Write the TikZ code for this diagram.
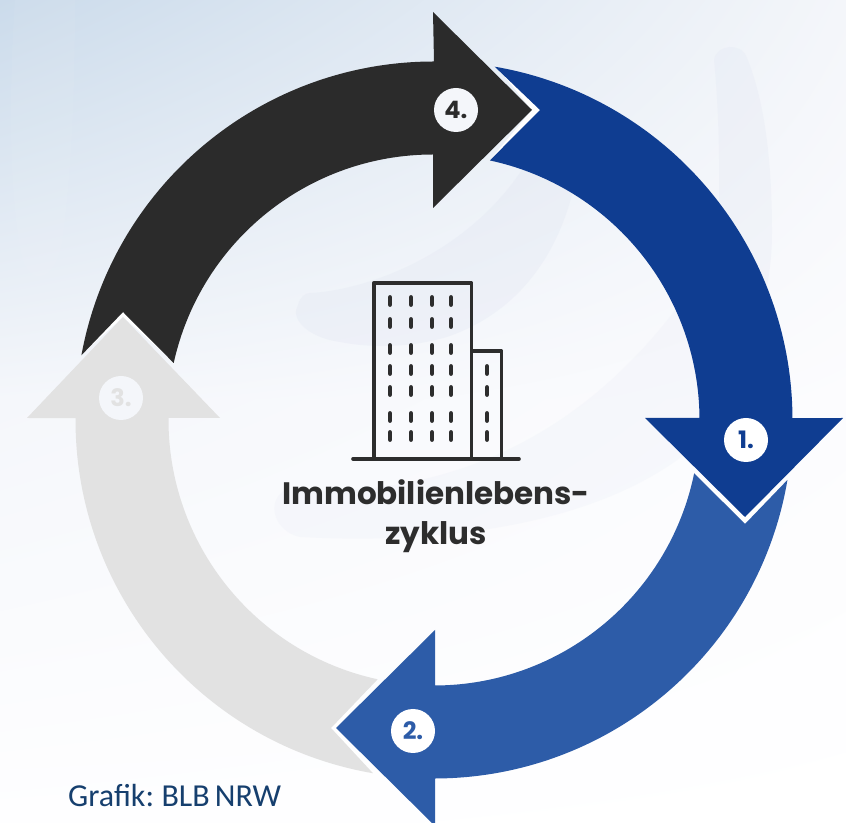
\documentclass[tikz,border=0pt]{standalone}
\usepackage{fontspec}
\newfontfamily\titlefont{Poppins}
\newfontfamily\creditfont[WordSpace=0.7]{Carlito}
\usetikzlibrary{calc,shadings}
\definecolor{blueone}{HTML}{0F3D91}
\definecolor{bluetwo}{HTML}{2D5CA8}
\definecolor{blackarrow}{HTML}{2B2B2B}
\definecolor{greyarrow}{HTML}{E2E2E2}
\definecolor{inkdark}{HTML}{2D2D2D}
\definecolor{creditblue}{HTML}{163F6E}
\definecolor{bgUL}{HTML}{CBDBEB}
\definecolor{bgUR}{HTML}{F4F6FA}
\definecolor{bgML}{HTML}{F5F7FB}
\definecolor{bgMR}{HTML}{FCFCFE}
\definecolor{bgLL}{HTML}{FEFEFF}
\definecolor{blade}{HTML}{DDE2F0}
\tikzset{
  x=1pt,y=1pt,
  gap/.style={fill=white},
  badge/.style={circle,minimum size=44pt,inner sep=0pt,font=\titlefont\bfseries\fontsize{24}{24}\selectfont},
  house/.style={draw=inkdark,line width=3.6pt,line join=round},
  pane/.style={draw=inkdark,line width=4.6pt,line cap=round},
  title/.style={font=\titlefont\bfseries\fontsize{31}{31}\selectfont,text=inkdark,anchor=base}
}
\begin{document}
\begin{tikzpicture}
\path[use as bounding box] (0,0) rectangle (846,822);
\clip (0,0) rectangle (846,822);
\shade[upper left=bgUL,upper right=bgUR,lower left=bgML,lower right=bgMR] (0,422) rectangle (846,822);
\shade[upper left=bgML,upper right=bgMR,lower left=bgLL,lower right=white] (0,0) rectangle (846,422.5);
% faint swooshes of the background
\fill[white,opacity=.05] (15,822) .. controls (8,720) and (10,620) .. (22,565) .. controls (30,535) and (55,540) .. (62,580) .. controls (72,650) and (75,740) .. (75,822) -- cycle;
\fill[blade,opacity=.22] (714,762) .. controls (716,778) and (742,780) .. (747,764) .. controls (765,720) and (772,660) .. (772,590) .. controls (772,540) and (760,500) .. (745,470) -- (718,520) .. controls (720,640) and (720,700) .. (714,762) -- cycle;
\fill[blade,opacity=.25] (310,529) .. controls (370,532) and (470,570) .. (525,657) -- (575,640) .. controls (560,570) and (520,510) .. (447,485) .. controls (410,474) and (370,474) .. (340,480) .. controls (305,485) and (290,505) .. (298,517) .. controls (300,525) and (305,529) .. (310,529) -- cycle;
\fill[blade,opacity=.14] (285,332) .. controls (400,325) and (570,350) .. (700,547) -- (760,520) -- (735,420) .. controls (660,310) and (480,275) .. (300,285) .. controls (275,290) and (265,320) .. (285,332) -- cycle;
% gaps between the arrows
\fill[gap] (495,757) -- (540,712) -- (490,662) -- (532,712) -- cycle;
\fill[gap] (788,342) -- (745,298) -- (693,349) -- (745,305) -- cycle;
\fill[gap] (378,144) -- (331,94) -- (373,49) -- (336,94) -- cycle;
\fill[gap] (81,467) -- (123,510) -- (175,459) -- (123,505) -- cycle;
% arrow 1
\fill[blueone] (434,402) ++(80.25:358.5) arc[start angle=80.25,end angle=.3,radius=358.5pt]
  -- (843,404) -- (745,305) -- (645,404) -- (699.5,404)
  arc[start angle=.43,end angle=77.85,radius=265.5pt] -- (540,712) -- cycle;
% arrow 2
\fill[bluetwo] (434,402) ++(-9.62:358.5) arc[start angle=-9.62,end angle=-89.8,radius=358.5pt]
  -- (435,-4) -- (336,94) -- (435,192) -- (435,136.5)
  arc[start angle=-89.8,end angle=-11.56,radius=265.5pt] -- (745,298) -- cycle;
% arrow 3
\fill[greyarrow] (434,402) ++(260.2:358.5) arc[start angle=260.2,end angle=179.7,radius=358.5pt]
  -- (27,404) -- (123,505) -- (220,404) -- (168.5,404)
  arc[start angle=179.6,end angle=257.75,radius=265.5pt] -- (331,94) -- cycle;
% arrow 4
\fill[blackarrow] (434,402) ++(169.6:358.5) arc[start angle=169.6,end angle=90,radius=358.5pt]
  -- (433,810) -- (532,712) -- (433,614) -- (433,667.5)
  arc[start angle=90,end angle=167.6,radius=265.5pt] -- (123,510) -- cycle;
% badges
\node[badge,fill=white,text=blueone] (b1) at (746,382) {1.};
\node[badge,fill=white,text=bluetwo] (b2) at (413,91) {2.};
\node[badge,fill=bgUR,text=greyarrow] (b3) at (121,424) {3.};
\node[badge,fill=bgUR,text=blackarrow] (b4) at (456,712) {4.};
% building
\draw[house] (373.7,363) -- (373.7,539) -- (471.5,539) -- (471.5,363);
\draw[house] (471.5,471) -- (501.5,471) -- (501.5,363);
\draw[inkdark,line width=3.6pt,line cap=round] (353,363) -- (519,363);
\foreach \yy in {301,323,349,370,391,417,436}{
  \foreach \xx in {390,411,432,451}{
    \draw[pane] (\xx,822-\yy-3.6) -- (\xx,822-\yy+3.6);
  }
}
\foreach \yy in {370,391,417,436}{
  \draw[pane] (487,822-\yy-3.6) -- (487,822-\yy+3.6);
}
% labels
\node[title] (t1) at (436,317) {Immobilienlebens-};
\node[title] (t2) at (436,277) {zyklus};
\node[font=\creditfont\fontsize{32}{32}\selectfont,text=creditblue,anchor=base west,inner sep=0pt] (credit) at (68,16) {Grafik: BLB NRW};
\end{tikzpicture}
\end{document}
